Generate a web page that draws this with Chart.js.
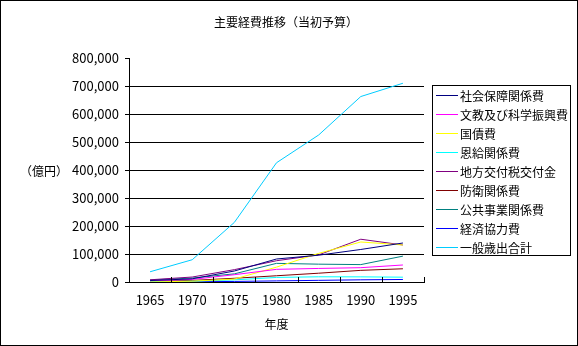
<!DOCTYPE html>
<html>
<head>
<meta charset="utf-8">
<script src="https://cdn.jsdelivr.net/npm/chart.js@4"></script>
<style>
  body { margin: 0; background: #fff; }
  #wrap { position: relative; width: 578px; height: 346px; font-family: "Noto Sans CJK JP", sans-serif; }
  #frame { position: absolute; left: 0; top: 0; width: 578px; height: 346px; box-sizing: border-box; border: 1px solid #000; pointer-events: none; }
  #title { position: absolute; left: 0; width: 572px; top: 13px; text-align: center; font-size: 12px; line-height: 18px; }
  #yunit { position: absolute; left: 20px; top: 162px; font-size: 12px; line-height: 18px; }
  #legend { position: absolute; left: 432px; top: 85px; width: 139px; height: 171px; box-sizing: border-box; border: 1px solid #000; }
  .item { position: relative; height: 19px; font-size: 12px; line-height: 19px; white-space: nowrap; }
  .item span.ln { position: absolute; left: 3px; top: 9px; width: 22px; height: 1px; }
  .item span.tx { position: absolute; left: 27px; top: 0; }
  canvas { position: absolute; left: 0; top: 0; }
</style>
</head>
<body>
<div id="wrap">
  <canvas id="chart" width="578" height="346"></canvas>
  <div id="title">主要経費推移（当初予算）</div>
  <div id="yunit">（億円）</div>
  <div id="legend"></div>
  <div id="frame"></div>
</div>
<script>
// 年度
const years = ['1965', '1970', '1975', '1980', '1985', '1990', '1995'];

// 当初予算 (億円)
const shakaiHosho = [5164, 11371, 39282, 82124, 95736, 116154, 139244];
const bunkyo = [4673, 9330, 26032, 45250, 48409, 51129, 60765];
const kokusai = [220, 2909, 10394, 53104, 102242, 142886, 132213];
const onkyu = [1700, 3000, 7600, 16300, 18600, 18400, 17200];
const chihoKofuzei = [7900, 17800, 44100, 76000, 96901, 152751, 132154];
const boei = [3014, 5695, 13273, 22302, 31371, 41593, 47236];
const kokyoJigyo = [7000, 14100, 29100, 66600, 63689, 62147, 92397];
const keizaiKyoryoku = [200, 900, 2000, 4000, 5900, 7800, 9000];
const ippanSaishutsu = [36581, 79497, 212888, 425888, 524996, 662368, 709871];

const seriesNames = ['社会保障関係費', '文教及び科学振興費', '国債費', '恩給関係費', '地方交付税交付金', '防衛関係費', '公共事業関係費', '経済協力費', '一般歳出合計'];
const seriesData = [shakaiHosho, bunkyo, kokusai, onkyu, chihoKofuzei, boei, kokyoJigyo, keizaiKyoryoku, ippanSaishutsu];
const seriesColors = ['#000080', '#ff00ff', '#ffff00', '#00ffff', '#800080', '#800000', '#008080', '#0000ff', '#00ccff'];

const yMax = 800000;
const yStep = 100000;

const datasets = seriesNames.map((name, i) => ({
    label: name,
    data: seriesData[i],
    borderColor: seriesColors[i],
    backgroundColor: seriesColors[i],
    borderWidth: 1,
    pointRadius: 0,
    tension: 0,
    fill: false
}));

// 凡例 (枠付き)
const legendEl = document.getElementById('legend');
seriesNames.forEach((name, i) => {
    const row = document.createElement('div');
    row.className = 'item';
    row.innerHTML = `<span class="ln" style="background:${seriesColors[i]}"></span><span class="tx">${name}</span>`;
    legendEl.appendChild(row);
});

// x軸の内向き目盛り
const innerTicks = {
    id: 'innerTicks',
    afterDraw(chart) {
        const sx = chart.scales.x;
        const ctx = chart.ctx;
        const n = sx.ticks.length;
        const w = (sx.right - sx.left) / n;
        ctx.save();
        ctx.strokeStyle = '#000';
        ctx.lineWidth = 1;
        ctx.beginPath();
        for (let i = 0; i <= n; i++) {
            const x = Math.round(sx.left + i * w) + 0.5;
            ctx.moveTo(x, sx.top);
            ctx.lineTo(x, sx.top - 5);
        }
        ctx.stroke();
        ctx.restore();
    }
};

new Chart(document.getElementById('chart'), {
    type: 'line',
    data: { labels: years, datasets: datasets },
    plugins: [innerTicks],
    options: {
        responsive: false,
        animation: false,
        layout: { padding: { left: 0, right: 154, top: 58, bottom: 0 } },
        plugins: {
            legend: { display: false },
            title: { display: false },
            tooltip: { enabled: false }
        },
        scales: {
            x: {
                offset: true,
                grid: { display: false, drawTicks: false },
                border: { display: true, color: '#000', width: 1 },
                ticks: { color: '#000', font: { family: '"Noto Sans CJK JP", sans-serif', size: 13 }, padding: 10, maxRotation: 0 },
                title: { display: true, text: '年度', color: '#000', font: { family: '"Noto Sans CJK JP", sans-serif', size: 12 }, padding: { top: 6, bottom: 14 } },
                afterFit(scale) { scale.height = 64; }
            },
            y: {
                min: 0,
                max: yMax,
                ticks: {
                    stepSize: yStep,
                    color: '#000',
                    padding: 6,
                    font: { family: '"Noto Sans CJK JP", sans-serif', size: 13 },
                    callback: v => v.toLocaleString('en-US')
                },
                grid: {
                    color: ctx => (ctx.tick && ctx.tick.value > 0 && ctx.tick.value < yMax) ? '#000' : 'rgba(0,0,0,0)',
                    tickColor: '#000',
                    tickLength: 4,
                    drawTicks: true
                },
                border: { display: true, color: '#000', width: 1 },
                afterFit(scale) { scale.width = 129; }
            }
        }
    }
});
</script>
</body>
</html>
